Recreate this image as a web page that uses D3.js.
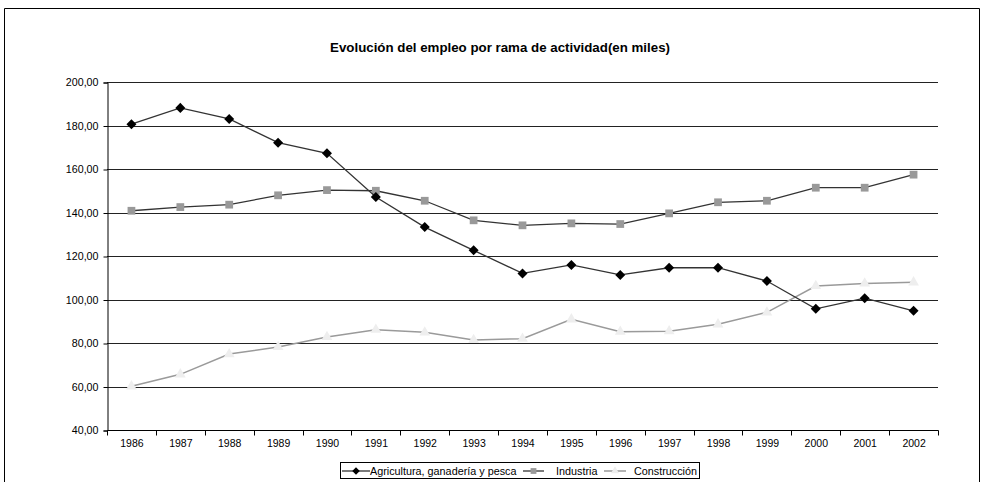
<!DOCTYPE html>
<html>
<head>
<meta charset="utf-8">
<script src="https://cdn.jsdelivr.net/npm/d3@7"></script>
<style>
  html, body { margin: 0; padding: 0; background: #fff; }
  svg { display: block; font-family: "Liberation Sans", Arial, sans-serif; }
</style>
</head>
<body>
<svg id="chart" width="984" height="482"></svg>
<script>
const years = ["1986","1987","1988","1989","1990","1991","1992","1993","1994","1995","1996","1997","1998","1999","2000","2001","2002"];
const agricultura = [180.6, 188.1, 183.0, 172.1, 167.2, 147.1, 133.3, 122.6, 112.0, 115.9, 111.3, 114.6, 114.6, 108.5, 95.7, 100.6, 94.8];
const industria = [140.8, 142.5, 143.6, 147.9, 150.3, 150.0, 145.4, 136.4, 134.1, 135.0, 134.7, 139.6, 144.7, 145.4, 151.4, 151.4, 157.4];
const construccion = [60.1, 65.6, 74.9, 78.2, 82.8, 86.1, 84.9, 81.4, 82.0, 90.9, 85.2, 85.4, 88.6, 94.1, 106.2, 107.4, 107.9];
const yTicks = [40, 60, 80, 100, 120, 140, 160, 180, 200];
const seriesNames = ["Agricultura, ganadería y pesca", "Industria", "Construcción"];
const title = "Evolución del empleo por rama de actividad(en miles)";

(function () {
const svg = d3.select("#chart");

// outer frame
svg.append("path")
  .attr("d", "M4.5,495 V8.5 H979.5 V495")
  .attr("fill", "none").attr("stroke", "#000").attr("stroke-width", 1);

const pLeft = 107, pRight = 938, pTop = 82, pBottom = 430;
const x = d3.scaleBand().domain(years).range([pLeft, pRight]);
const y = d3.scaleLinear().domain([40, 200]).range([pBottom, pTop]);
const cx = d => x(d) + x.bandwidth() / 2;

// title
svg.append("text")
  .attr("x", 500).attr("y", 52)
  .attr("text-anchor", "middle")
  .attr("font-size", 13.3).attr("font-weight", "bold")
  .text(title);

// gridlines
svg.append("g").selectAll("line").data(yTicks.filter(t => t > 40)).join("line")
  .attr("x1", pLeft).attr("x2", pRight)
  .attr("y1", d => Math.round(y(d)) + 0.5).attr("y2", d => Math.round(y(d)) + 0.5)
  .attr("stroke", "#222").attr("stroke-width", 1);

// y axis
const fmt = v => d3.format(".2f")(v).replace(".", ",");
const yAxis = svg.append("g")
  .attr("transform", `translate(${pLeft + 0.5},0.5)`)
  .call(d3.axisLeft(y).tickValues(yTicks).tickFormat(fmt).tickSize(4).tickPadding(5));
yAxis.selectAll("text").attr("font-size", 10.7).attr("fill", "#000").attr("font-family", "Liberation Sans, Arial, sans-serif");
yAxis.selectAll("line, path").attr("stroke", "#000");

// x axis
const xAxis = svg.append("g")
  .attr("transform", `translate(0.5,${Math.round(pBottom) + 0.5})`)
  .call(d3.axisBottom(x).tickSize(0).tickPadding(9.5));
xAxis.select(".domain").attr("stroke", "#000").attr("d", `M${pLeft},0H${pRight}`);
xAxis.selectAll("text").attr("font-size", 10.5).attr("fill", "#000").attr("font-family", "Liberation Sans, Arial, sans-serif");
const bounds = years.map(d => x(d)).concat([pRight]);
xAxis.selectAll(".bt").data(bounds).join("line")
  .attr("class", "bt")
  .attr("x1", d => Math.round(d)).attr("x2", d => Math.round(d))
  .attr("y1", 0).attr("y2", 5).attr("stroke", "#000");

// markers
const diamond = d3.symbol().type(d3.symbolDiamond2).size(64);
const square = d3.symbol().type(d3.symbolSquare).size(60);
const triangle = d3.symbol().type(d3.symbolTriangle).size(50);

function drawSeries(values, lineColor, lineWidth, sym, fill) {
  const line = d3.line().x((d, i) => cx(years[i])).y(d => y(d));
  svg.append("path").datum(values)
    .attr("d", line).attr("fill", "none")
    .attr("stroke", lineColor).attr("stroke-width", lineWidth);
  svg.append("g").selectAll("path").data(values).join("path")
    .attr("d", sym)
    .attr("transform", (d, i) => `translate(${cx(years[i])},${y(d)})`)
    .attr("fill", fill).attr("stroke", "none");
}

drawSeries(construccion, "#9a9a9a", 1.5, triangle, "#eeeeee");
drawSeries(industria, "#333", 1.3, square, "#999");
drawSeries(agricultura, "#333", 1.3, diamond, "#000");

// legend
const lg = svg.append("g");
lg.append("rect").attr("x", 340.5).attr("y", 462.5).attr("width", 359).attr("height", 16)
  .attr("fill", "#fff").attr("stroke", "#000");
const legendItems = [
  { name: seriesNames[0], x1: 342, x2: 370, tx: 370, color: "#333", sym: diamond, fill: "#000", w: 1.3 },
  { name: seriesNames[1], x1: 523, x2: 544, tx: 556, color: "#333", sym: square, fill: "#999", w: 1.3 },
  { name: seriesNames[2], x1: 604, x2: 626, tx: 634, color: "#9a9a9a", sym: triangle, fill: "#eeeeee", w: 1.5 }
];
legendItems.forEach(it => {
  lg.append("line").attr("x1", it.x1).attr("x2", it.x2).attr("y1", 471).attr("y2", 471)
    .attr("stroke", it.color).attr("stroke-width", it.w);
  lg.append("path").attr("d", it.sym).attr("transform", `translate(${(it.x1 + it.x2) / 2},471) scale(0.75)`)
    .attr("fill", it.fill);
  lg.append("text").attr("x", it.tx).attr("y", 475).attr("font-size", 10.8).attr("fill", "#000").text(it.name);
});
})();
</script>
</body>
</html>
